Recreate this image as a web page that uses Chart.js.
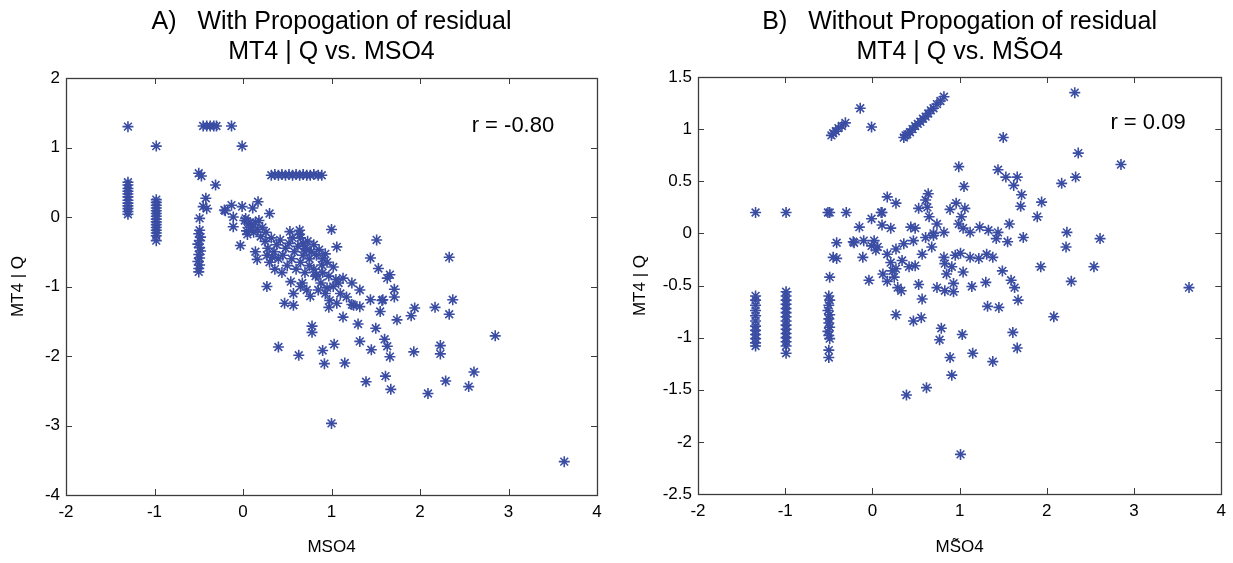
<!DOCTYPE html>
<html>
<head>
<meta charset="utf-8">
<script src="https://cdn.jsdelivr.net/npm/chart.js@4.4.1/dist/chart.umd.min.js"></script>
<style>
  html, body { margin: 0; padding: 0; background: #fff; }
  #wrap { position: relative; width: 1233px; height: 563px; }
  .panel { position: absolute; top: 0; height: 563px; }
</style>
</head>
<body>
<div id="wrap">
  <div class="panel" style="left:0;width:616px"><canvas id="withProp" width="616" height="563"></canvas></div>
  <div class="panel" style="left:616px;width:617px"><canvas id="withoutProp" width="617" height="563"></canvas></div>
</div>
<script>
// Panel A: MT4 | Q vs. MSO4 (with propagation of residual), [x, y]
const withPropPoints = [
  [-1.3, 1.30], [-1.3, 0.50], [-1.3, 0.46], [-1.3, 0.41], [-1.3, 0.37], [-1.3, 0.33], [-1.3, 0.29],
  [-1.3, 0.24], [-1.3, 0.20], [-1.3, 0.16], [-1.3, 0.12], [-1.3, 0.08], [-1.3, 0.04],
  [-0.98, 1.02], [-0.98, 0.25], [-0.98, 0.21], [-0.98, 0.17], [-0.98, 0.13], [-0.98, 0.09], [-0.98, 0.05],
  [-0.98, 0.01], [-0.98, -0.03], [-0.98, -0.07], [-0.98, -0.11], [-0.98, -0.15], [-0.98, -0.19],
  [-0.98, -0.23], [-0.98, -0.27], [-0.98, -0.34],
  [-0.45, 1.31], [-0.41, 1.31], [-0.37, 1.31], [-0.33, 1.31], [-0.30, 1.31], [-0.13, 1.31], [-0.01, 1.02],
  [-0.50, 0.63], [-0.47, 0.59], [-0.31, 0.46], [-0.42, 0.27], [-0.45, 0.15], [-0.41, 0.12], [-0.49, -0.02],
  [-0.49, -0.19], [-0.50, -0.24], [-0.48, -0.29], [-0.49, -0.34], [-0.51, -0.39], [-0.49, -0.44],
  [-0.48, -0.49], [-0.50, -0.54], [-0.49, -0.59], [-0.51, -0.64], [-0.49, -0.69], [-0.50, -0.74], [-0.50, -0.79],
  [-0.21, 0.10], [-0.13, 0.17], [-0.01, 0.15], [0.11, 0.13], [0.17, 0.22], [0.30, 0.05], [-0.20, 0.09],
  [-0.11, 0.00], [-0.11, -0.14], [-0.03, -0.41], [0.02, -0.05], [0.06, -0.10], [0.10, -0.15], [0.14, -0.08],
  [0.04, -0.20], [0.12, -0.22], [0.16, -0.18], [0.14, -0.50], [0.16, -0.61], [0.03, -0.02], [0.08, -0.08],
  [0.18, -0.05], [0.22, -0.15], [0.26, -0.22], [0.05, -0.25], [0.20, -0.28],
  [0.32, 0.60], [0.36, 0.61], [0.40, 0.60], [0.44, 0.61], [0.48, 0.60], [0.52, 0.61], [0.56, 0.60],
  [0.60, 0.61], [0.64, 0.60], [0.68, 0.61], [0.72, 0.60], [0.76, 0.60], [0.80, 0.61], [0.85, 0.60], [0.89, 0.60],
  [0.25, -0.35], [0.28, -0.45], [0.32, -0.30], [0.35, -0.50], [0.38, -0.40], [0.40, -0.60], [0.42, -0.33],
  [0.45, -0.55], [0.48, -0.45], [0.50, -0.70], [0.52, -0.38], [0.55, -0.60], [0.58, -0.50], [0.60, -0.75],
  [0.62, -0.42], [0.65, -0.65], [0.68, -0.55], [0.70, -0.80], [0.72, -0.47], [0.75, -0.60], [0.30, -0.65],
  [0.36, -0.75], [0.44, -0.80], [0.27, -0.55], [0.33, -0.58], [0.56, -0.30], [0.64, -0.25],
  [0.53, -0.21], [0.64, -0.19], [1.00, -0.18], [0.83, -0.83], [0.89, -0.69], [1.02, -0.72], [0.93, -0.53],
  [1.06, -0.43], [0.85, -1.05], [0.95, -1.02], [1.02, -1.00], [0.54, -0.93], [0.57, -1.10], [0.47, -1.24],
  [0.57, -1.27], [0.76, -1.14], [0.27, -1.00], [0.80, -0.75], [0.90, -0.80], [0.97, -0.85], [1.05, -0.90],
  [0.65, -0.30], [0.68, -0.38], [0.70, -0.45], [0.73, -0.35], [0.77, -0.50], [0.80, -0.40], [0.83, -0.55],
  [0.86, -0.47], [0.90, -0.60], [0.95, -0.65], [0.75, -0.70], [0.82, -0.85], [0.88, -0.95], [0.93, -1.10],
  [0.98, -1.20], [0.67, -0.95], [0.72, -1.05], [0.65, -1.00], [0.97, -1.30], [1.10, -1.10], [1.08, -0.95],
  [1.51, -0.33], [1.44, -0.59], [1.53, -0.74], [1.63, -0.88], [1.66, -0.83], [1.71, -1.04], [1.71, -1.15],
  [2.33, -0.58], [2.37, -1.19], [2.33, -1.40], [2.17, -1.30], [1.94, -1.31], [1.90, -1.42], [1.74, -1.48],
  [2.85, -1.71], [2.23, -1.85], [2.23, -1.97], [1.93, -1.94], [2.61, -2.23], [2.29, -2.36], [2.55, -2.44],
  [2.09, -2.54], [1.67, -2.48], [1.39, -2.37], [1.61, -2.29], [1.66, -2.01], [1.60, -1.76], [1.63, -1.86],
  [1.45, -1.91], [1.32, -1.79], [1.50, -1.60], [1.30, -1.54], [1.13, -1.44], [1.03, -1.83], [0.90, -1.92],
  [0.92, -2.11], [1.15, -2.10], [0.78, -1.57], [0.78, -1.66], [1.55, -1.36], [1.44, -1.19], [1.32, -1.29],
  [1.23, -1.26], [1.06, -1.24], [1.58, -1.19], [1.17, -1.15], [1.25, -1.27], [1.57, -1.20], [1.13, -0.88],
  [1.23, -0.95], [1.32, -1.05], [0.40, -1.87], [0.63, -1.99], [1.00, -2.97], [3.63, -3.52]
];

// Panel B: MT4 | Q vs. MS~O4 (without propagation of residual), [x, y]
const withoutPropPoints = [
  [-1.34, 0.20], [-1.34, -0.60], [-1.34, -0.64], [-1.34, -0.69], [-1.34, -0.74], [-1.34, -0.79], [-1.34, -0.84],
  [-1.34, -0.89], [-1.34, -0.93], [-1.34, -0.97], [-1.34, -1.01], [-1.34, -1.05], [-1.34, -1.08],
  [-0.99, 0.20], [-0.99, -0.56], [-0.99, -0.60], [-0.99, -0.64], [-0.99, -0.68], [-0.99, -0.72], [-0.99, -0.76],
  [-0.99, -0.80], [-0.99, -0.84], [-0.99, -0.88], [-0.99, -0.92], [-0.99, -0.96], [-0.99, -1.00], [-0.99, -1.04],
  [-0.99, -1.08], [-0.99, -1.15],
  [-0.51, 0.20], [-0.49, 0.20], [-0.49, -0.42], [-0.50, -0.60], [-0.49, -0.64], [-0.50, -0.69], [-0.51, -0.74],
  [-0.49, -0.78], [-0.50, -0.82], [-0.50, -0.86], [-0.49, -0.90], [-0.51, -0.94], [-0.50, -0.98], [-0.49, -1.01],
  [-0.50, -1.12], [-0.50, -1.19], [-0.30, 0.20],
  [-0.47, 0.94], [-0.45, 0.96], [-0.42, 0.98], [-0.39, 1.01], [-0.35, 1.03], [-0.31, 1.06], [-0.14, 1.20], [-0.01, 1.02],
  [0.36, 0.92], [0.38, 0.94], [0.40, 0.95], [0.43, 0.97], [0.46, 1.00], [0.49, 1.03], [0.52, 1.05], [0.55, 1.07],
  [0.58, 1.10], [0.61, 1.12], [0.64, 1.15], [0.67, 1.18], [0.70, 1.20], [0.74, 1.24], [0.78, 1.27], [0.82, 1.31],
  [0.17, 0.35], [0.27, 0.29], [0.11, 0.20], [-0.01, 0.14], [-0.15, 0.06], [0.11, 0.08], [0.21, 0.05],
  [-0.41, -0.09], [-0.21, -0.09], [-0.10, -0.07], [0.02, -0.07], [0.06, -0.13], [0.04, -0.16], [0.17, -0.20],
  [-0.45, -0.23], [-0.41, -0.24], [-0.11, -0.23], [-0.04, -0.45], [0.12, -0.39], [0.17, -0.46], [0.23, -0.36],
  [0.25, -0.42],
  [1.50, 0.92], [0.99, 0.64], [1.44, 0.61], [1.53, 0.54], [1.66, 0.54], [1.62, 0.46], [1.05, 0.45], [1.71, 0.37],
  [1.70, 0.26], [1.94, 0.30], [1.89, 0.16], [1.57, 0.09], [1.73, -0.04], [1.93, -0.32],
  [0.64, 0.38], [0.61, 0.32], [0.63, 0.25], [0.96, 0.29], [0.89, 0.23], [1.06, 0.24], [1.02, 0.16], [0.99, 0.09],
  [1.04, 0.05], [0.53, 0.24], [0.65, 0.16], [0.74, 0.09], [0.70, 0.00], [0.82, 0.01], [0.10, 0.20],
  [0.44, 0.06], [0.49, 0.05], [-0.22, -0.08], [0.36, -0.10], [0.47, -0.07], [0.61, -0.04], [0.70, -0.02],
  [-0.01, -0.12], [0.27, -0.15], [1.12, 0.01], [1.23, 0.06], [1.33, 0.03], [1.44, 0.01], [1.42, -0.05], [1.55, -0.08],
  [0.21, -0.28], [0.27, -0.34], [0.34, -0.26], [0.42, -0.32], [0.49, -0.31], [0.57, -0.20], [0.68, -0.13],
  [0.29, -0.52], [0.33, -0.55], [0.53, -0.49], [0.57, -0.63], [0.74, -0.52], [0.85, -0.39], [0.83, -0.29],
  [0.91, -0.32], [0.93, -0.48], [0.93, -0.56], [0.83, -0.55], [0.82, -0.23], [0.95, -0.21], [1.01, -0.19],
  [1.12, -0.23], [1.22, -0.24], [1.31, -0.20], [1.38, -0.23], [1.04, -0.37], [1.14, -0.51], [1.30, -0.47],
  [1.49, -0.36], [1.59, -0.45], [1.63, -0.52], [1.67, -0.64], [1.32, -0.70], [1.45, -0.71],
  [0.27, -0.78], [0.47, -0.84], [0.56, -0.81], [0.79, -0.91], [0.77, -1.02], [1.03, -0.97], [1.61, -0.95],
  [1.66, -1.10], [2.08, -0.80], [0.89, -1.19], [0.91, -1.36], [1.15, -1.15], [1.38, -1.23], [0.62, -1.48],
  [0.39, -1.55], [1.01, -2.12],
  [2.32, 1.35], [2.36, 0.77], [2.85, 0.66], [2.33, 0.54], [2.17, 0.48], [2.23, 0.01], [2.22, -0.13],
  [2.61, -0.05], [2.54, -0.32], [2.28, -0.46], [3.63, -0.52]
];

const xTitleA = 'MSO4';
const xTitleB = 'MS\u0303O4';
const yTitle = 'MT4 | Q';
const titleA = ['A)   With Propogation of residual', 'MT4 | Q vs. MSO4'];
const titleB = ['B)   Without Propogation of residual', 'MT4 | Q vs. MS\u0303O4'];
const corrA = 'r = -0.80';
const corrB = 'r = 0.09';

const FONT = "'Liberation Sans', Arial, sans-serif";
const MARK = '#3a4da3';

// MATLAB-style box with inward tick marks on all four sides
const boxTicks = {
  id: 'boxTicks',
  afterDatasetsDraw(chart) {
    const { ctx, chartArea: a, scales: { x, y } } = chart;
    const len = 6;
    ctx.save();
    ctx.strokeStyle = '#3c3c3c';
    ctx.lineWidth = 1;
    ctx.beginPath();
    x.ticks.forEach((t) => {
      const px = Math.round(x.getPixelForValue(t.value)) + 0.5;
      ctx.moveTo(px, a.bottom); ctx.lineTo(px, a.bottom - len);
      ctx.moveTo(px, a.top); ctx.lineTo(px, a.top + len);
    });
    y.ticks.forEach((t) => {
      const py = Math.round(y.getPixelForValue(t.value)) + 0.5;
      ctx.moveTo(a.left, py); ctx.lineTo(a.left + len, py);
      ctx.moveTo(a.right, py); ctx.lineTo(a.right - len, py);
    });
    ctx.stroke();
    ctx.lineWidth = 1.3;
    ctx.strokeRect(Math.round(a.left) + 0.5, Math.round(a.top) + 0.5, Math.round(a.width), Math.round(a.height));
    ctx.restore();
  }
};

// correlation label placed at a data position
const corrLabel = {
  id: 'corrLabel',
  afterDatasetsDraw(chart, args, opts) {
    const { ctx, scales: { x, y } } = chart;
    ctx.save();
    ctx.font = '22px ' + FONT;
    ctx.fillStyle = '#000';
    ctx.textAlign = 'center';
    ctx.textBaseline = 'middle';
    ctx.fillText(opts.text, x.getPixelForValue(opts.x), y.getPixelForValue(opts.y));
    ctx.restore();
  }
};

function makePanel(id, points, cfg) {
  new Chart(document.getElementById(id), {
    type: 'scatter',
    data: {
      datasets: [{
        data: points.map(([x, y]) => ({ x, y })),
        pointStyle: 'star',
        pointRadius: 5.5,
        pointBorderWidth: 1.6,
        borderColor: MARK,
        backgroundColor: MARK
      }]
    },
    options: {
      responsive: false,
      animation: false,
      events: [],
      layout: { padding: { left: 0, right: cfg.padRight, top: 0, bottom: 0 } },
      plugins: {
        legend: { display: false },
        tooltip: { enabled: false },
        title: {
          display: true,
          fullSize: false,
          text: cfg.title,
          color: '#000',
          font: { family: FONT, size: 25, weight: 'normal', lineHeight: 1.2 },
          padding: { top: 7, bottom: cfg.titleGap }
        },
        corrLabel: cfg.corr
      },
      scales: {
        x: {
          type: 'linear',
          min: -2, max: 4,
          grid: { display: false, drawTicks: false },
          border: { display: false },
          ticks: { stepSize: 1, color: '#000', padding: 7, font: { family: FONT, size: 17 } },
          title: { display: true, text: cfg.xTitle, color: '#000', font: { family: FONT, size: 17 }, padding: { bottom: 5 } },
          afterFit: (s) => { s.height = cfg.xAxisH; }
        },
        y: {
          type: 'linear',
          min: cfg.yMin, max: cfg.yMax,
          grid: { display: false, drawTicks: false },
          border: { display: false },
          ticks: {
            stepSize: cfg.yStep, color: '#000', padding: 6, font: { family: FONT, size: 17 },
            callback: (v) => String(Number(v.toFixed(2)))
          },
          title: { display: true, text: yTitle, color: '#000', font: { family: FONT, size: 17 }, padding: { top: cfg.yTitlePad } },
          afterFit: (s) => { s.width = cfg.yAxisW; }
        }
      }
    },
    plugins: [boxTicks, corrLabel]
  });
}

makePanel('withProp', withPropPoints, {
  title: titleA, xTitle: xTitleA, yMin: -4, yMax: 2, yStep: 1,
  yAxisW: 66, xAxisH: 68, padRight: 19, titleGap: 11, yTitlePad: 8,
  corr: { text: corrA, x: 3.05, y: 1.31 }
});

makePanel('withoutProp', withoutPropPoints, {
  title: titleB, xTitle: xTitleB, yMin: -2.5, yMax: 1.5, yStep: 0.5,
  yAxisW: 82, xAxisH: 69, padRight: 5, titleGap: 10, yTitlePad: 14,
  corr: { text: corrB, x: 3.16, y: 1.06 }
});
</script>
</body>
</html>
